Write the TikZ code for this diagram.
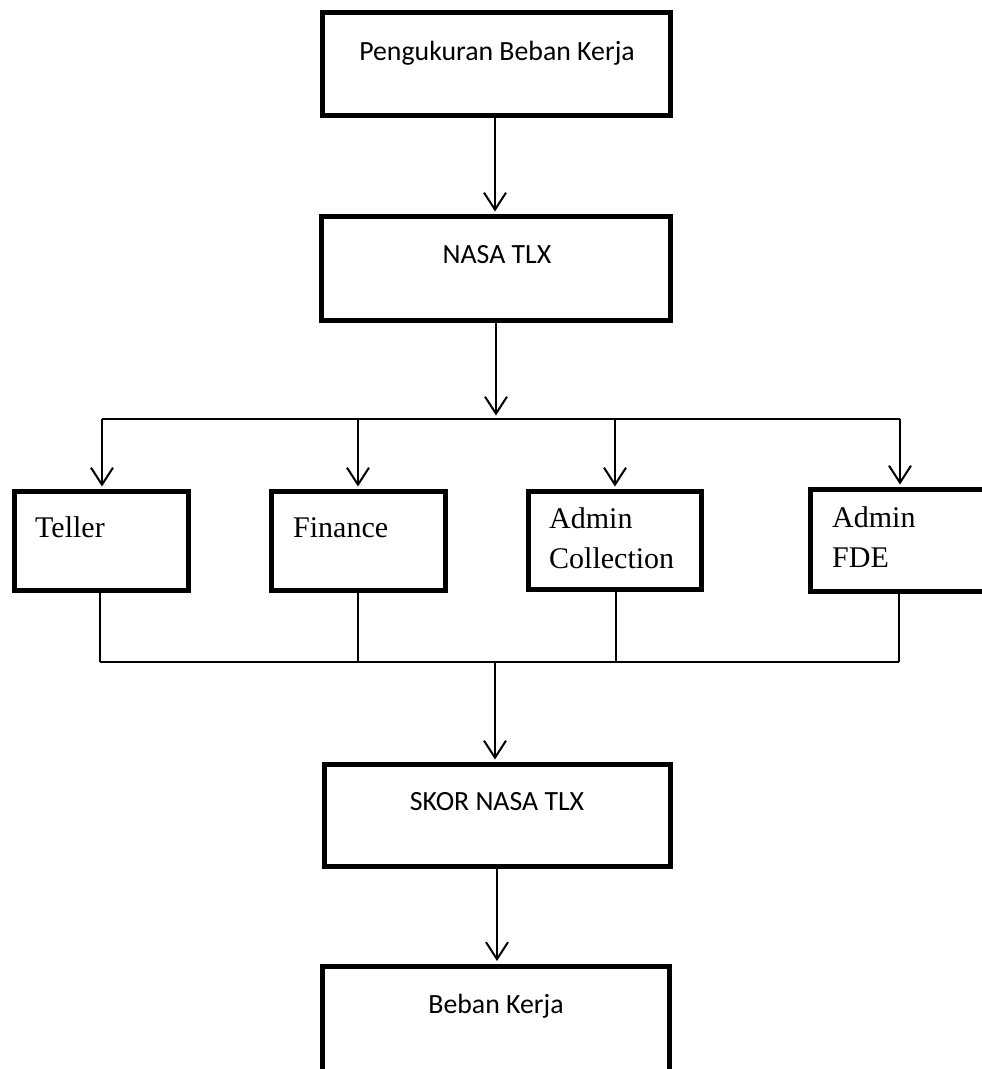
\documentclass[tikz,border=0pt]{standalone}
\usepackage{fontspec}
\setmainfont{Liberation Serif}
\newfontfamily\calib{Carlito}
\usetikzlibrary{arrows.meta,calc}
\begin{document}
\begin{tikzpicture}[x=1pt,y=-1pt,
  box/.style={draw,line width=5pt,rectangle,inner sep=0pt},
  conn/.style={line width=2pt},
  arr/.style={conn,-{Straight Barb[length=17pt,width=22pt,line width=2pt]},shorten >=2.5pt},
  sanstxt/.style={font=\calib\fontsize{27.8}{32}\selectfont,anchor=base,inner sep=0pt},
  seriftxt/.style={font=\fontsize{30}{40}\selectfont,anchor=base west,inner sep=0pt,align=left}
]
\clip (0,0) rectangle (982,1069);
\fill[white] (0,0) rectangle (982,1069);

% boxes
\node[box,minimum width=348pt,minimum height=103pt] (top) at (496.5,64) {};
\node[box,minimum width=349pt,minimum height=104pt] (nasa) at (496,268.5) {};
\node[box,minimum width=174pt,minimum height=99pt] (teller) at (101.5,541) {};
\node[box,minimum width=174pt,minimum height=99pt] (fin) at (358.5,541) {};
\node[box,minimum width=173pt,minimum height=98pt] (adc) at (615,540.5) {};
\node[box,minimum width=175pt,minimum height=102pt] (fde) at (897.5,540.5) {};
\node[box,minimum width=346pt,minimum height=102pt] (skor) at (497.5,815.5) {};
\node[box,minimum width=347pt,minimum height=140pt] (beban) at (496,1036) {};

% texts
\node[sanstxt] (ttop) at (497,60) {Pengukuran Beban Kerja};
\node[sanstxt] (tnasa) at (497,263) {NASA TLX};
\node[sanstxt] (tskor) at (497,810) {SKOR NASA TLX};
\node[sanstxt] (tbeban) at (496,1013) {Beban Kerja};
\node[seriftxt] (tteller) at (35,537) {Teller};
\node[seriftxt] (tfin) at (293,537) {Finance};
\node[seriftxt] (tadc) at (549,568) {Admin\\Collection};
\node[seriftxt] (tfde) at (832,567) {Admin\\FDE};

% bus coordinates
\coordinate (bt1) at (102,419);
\coordinate (bt2) at (358,419);
\coordinate (bt3) at (615,419);
\coordinate (bt4) at (900,419);
\coordinate (btm) at (496,419);
\coordinate (bb1) at (100,662);
\coordinate (bb2) at (358,662);
\coordinate (bb3) at (616,662);
\coordinate (bb4) at (899,662);
\coordinate (bbm) at (495,662);

% connectors
\draw[arr] (top.south -| 495,0) -- (nasa.north -| 495,0);
\draw[arr] (nasa.south -| btm) -- ($(btm)+(0,-1)$);
\draw[conn] (bt1) -- (bt4);
\draw[arr] (bt1) -- (teller.north -| bt1);
\draw[arr] (bt2) -- (fin.north -| bt2);
\draw[arr] (bt3) -- (adc.north -| bt3);
\draw[arr] (bt4) -- (fde.north -| bt4);
\draw[conn] (teller.south -| bb1) -- (bb1);
\draw[conn] (fin.south -| bb2) -- (bb2);
\draw[conn] (adc.south -| bb3) -- (bb3);
\draw[conn] (fde.south -| bb4) -- (bb4);
\draw[conn] (bb1) -- (bb4);
\draw[arr] (bbm) -- (skor.north -| bbm);
\draw[arr] (skor.south -| 497,0) -- (beban.north -| 497,0);
\end{tikzpicture}
\end{document}
